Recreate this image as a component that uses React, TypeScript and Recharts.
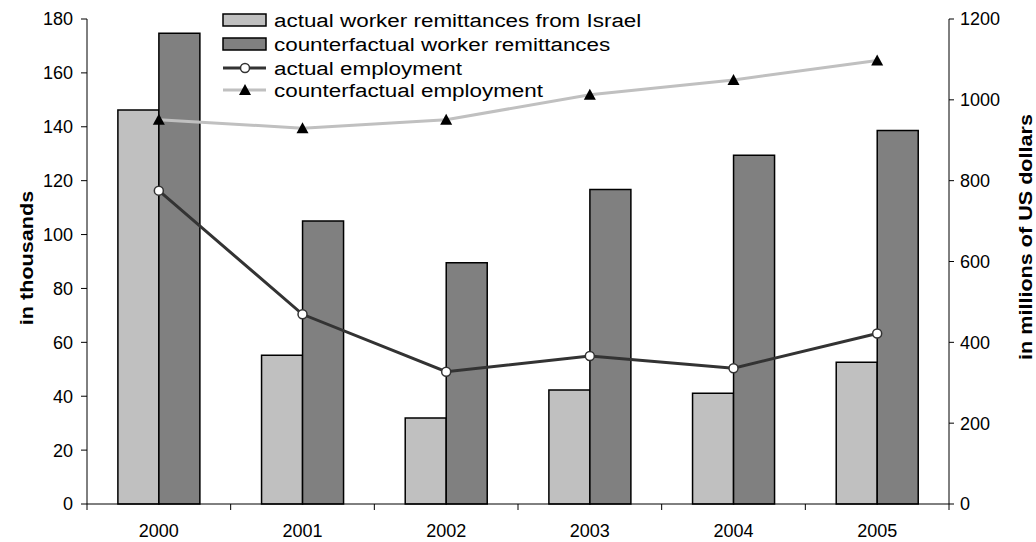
import React from 'react';
import { ComposedChart, Bar, Line, XAxis, YAxis } from 'recharts';

const years = ['2000', '2001', '2002', '2003', '2004', '2005'];
// millions of US dollars (right axis)
const actualRemittances = [975, 368, 213, 282, 274, 351];
const counterfactualRemittances = [1165, 700, 597, 778, 863, 924];
// thousands (left axis)
const actualEmployment = [116.3, 70.4, 49.1, 54.9, 50.4, 63.3];
const counterfactualEmployment = [142.6, 139.5, 142.6, 151.9, 157.4, 164.6];

const leftTicks = [0, 20, 40, 60, 80, 100, 120, 140, 160, 180];
const rightTicks = [0, 200, 400, 600, 800, 1000, 1200];

const FONT = '"Liberation Sans", Arial, sans-serif';
const LIGHT = '#c0c0c0';
const DARK = '#808080';
const LINE_DARK = '#333333';

const data = years.map((year, i) => ({
  year,
  actualRem: actualRemittances[i],
  counterRem: counterfactualRemittances[i],
  actualEmp: actualEmployment[i],
  counterEmp: counterfactualEmployment[i],
}));

const CircleDot = (props: any) => {
  const { cx, cy } = props;
  if (cx == null || cy == null) return null;
  return <circle cx={cx} cy={cy} r={4.5} fill="#fff" stroke={LINE_DARK} strokeWidth={1.5} />;
};

const TriangleDot = (props: any) => {
  const { cx, cy } = props;
  if (cx == null || cy == null) return null;
  return (
    <polygon
      points={`${cx},${cy - 6} ${cx - 6},${cy + 5} ${cx + 6},${cy + 5}`}
      fill="#000"
    />
  );
};

const YearTick = (props: any) => {
  const { x, y, payload, index, visibleTicksCount } = props;
  const half = payload.offset ?? 72;
  const last = index === (visibleTicksCount ?? years.length) - 1;
  return (
    <g>
      <line x1={x - half} y1={y} x2={x - half} y2={y + 6} stroke="#000" />
      {last && <line x1={x + half} y1={y} x2={x + half} y2={y + 6} stroke="#000" />}
      <text x={x} y={y + 33} textAnchor="middle" fontSize={18} fontFamily={FONT} fill="#000">
        {payload.value}
      </text>
    </g>
  );
};

// rotated title, baseline at x, centred on y, stretched along the reading direction
const VerticalTitle = ({ x, y, text }: { x: number; y: number; text: string }) => (
  <text
    transform={`translate(${x} ${y}) rotate(-90) scale(1.2 1)`}
    textAnchor="middle"
    fontSize={18}
    fontWeight="bold"
    fontFamily={FONT}
    fill="#000"
  >
    {text}
  </text>
);

const Legend = () => {
  const rows = [
    { label: 'actual worker remittances from Israel', kind: 'bar', color: LIGHT },
    { label: 'counterfactual worker remittances', kind: 'bar', color: DARK },
    { label: 'actual employment', kind: 'circle', color: LINE_DARK },
    { label: 'counterfactual employment', kind: 'triangle', color: LIGHT },
  ];
  const ys = [20, 44, 68, 90];
  return (
    <svg width={460} height={104} style={{ position: 'absolute', left: 218, top: 0 }}>
      {rows.map((r, i) => {
        const cy = ys[i];
        return (
          <g key={r.label}>
            {r.kind === 'bar' ? (
              <rect x={5} y={cy - 6} width={43} height={12} fill={r.color} stroke="#000" strokeWidth={1.5} />
            ) : (
              <>
                <line x1={5} y1={cy} x2={48} y2={cy} stroke={r.color} strokeWidth={3} />
                {r.kind === 'circle' ? (
                  <CircleDot cx={27} cy={cy} />
                ) : (
                  <TriangleDot cx={27} cy={cy} />
                )}
              </>
            )}
            <text
              transform={`translate(56 ${cy}) scale(1.18 1)`}
              dominantBaseline="central"
              fontSize={19}
              fontFamily={FONT}
              fill="#000"
            >
              {r.label}
            </text>
          </g>
        );
      })}
    </svg>
  );
};

export default function App() {
  const W = 1036;
  const H = 542;
  return (
    <div style={{ position: 'fixed', left: 0, top: 0, width: W, height: H, background: '#fff' }}>
      <ComposedChart
        width={W}
        height={H}
        data={data}
        margin={{ top: 19, right: 0, bottom: 0, left: 0 }}
        barCategoryGap="21.5%"
        barGap={0}
      >
        <XAxis
          dataKey="year"
          height={38}
          tickSize={0}
          tickMargin={0}
          tickLine={false}
          axisLine={{ stroke: '#000' }}
          tick={<YearTick />}
          interval={0}
        />
        <YAxis
          yAxisId="left"
          orientation="left"
          width={87}
          domain={[0, 180]}
          ticks={leftTicks}
          interval={0}
          tickSize={6}
          tickMargin={8}
          axisLine={{ stroke: '#000' }}
          tickLine={{ stroke: '#000' }}
          tick={{ fill: '#000', fontSize: 18, fontFamily: FONT }}
          label={() => <VerticalTitle x={33} y={258} text="in thousands" />}
        />
        <YAxis
          yAxisId="right"
          orientation="right"
          width={87}
          domain={[0, 1200]}
          ticks={rightTicks}
          interval={0}
          tickSize={5}
          tickMargin={6}
          axisLine={{ stroke: '#000' }}
          tickLine={{ stroke: '#000' }}
          tick={{ fill: '#000', fontSize: 18, fontFamily: FONT }}
          label={() => <VerticalTitle x={1032} y={237} text="in millions of US dollars" />}
        />
        <Bar yAxisId="right" dataKey="actualRem" fill={LIGHT} stroke="#000" strokeWidth={1.5} isAnimationActive={false} />
        <Bar yAxisId="right" dataKey="counterRem" fill={DARK} stroke="#000" strokeWidth={1.5} isAnimationActive={false} />
        <Line
          yAxisId="left"
          dataKey="counterEmp"
          stroke={LIGHT}
          strokeWidth={3}
          dot={<TriangleDot />}
          activeDot={false}
          isAnimationActive={false}
        />
        <Line
          yAxisId="left"
          dataKey="actualEmp"
          stroke={LINE_DARK}
          strokeWidth={3}
          dot={<CircleDot />}
          activeDot={false}
          isAnimationActive={false}
        />
      </ComposedChart>
      <Legend />
    </div>
  );
}
